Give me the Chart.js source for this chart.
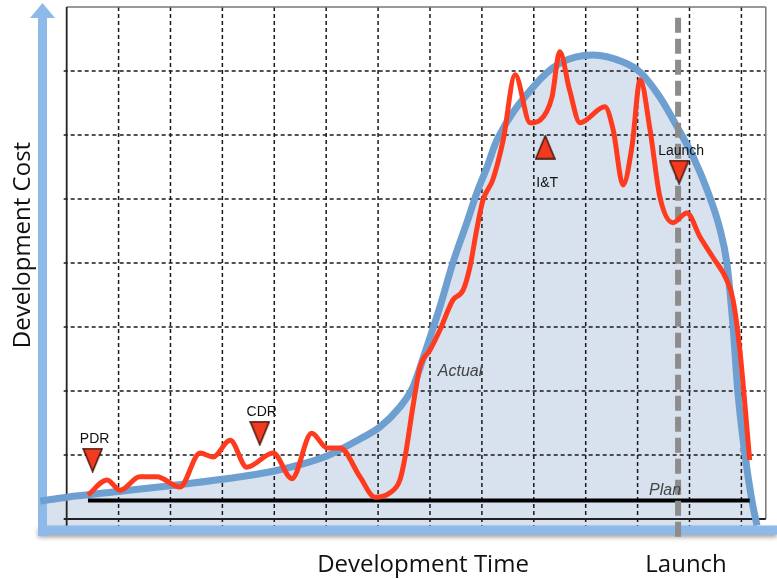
<!DOCTYPE html>
<html>
<head>
<meta charset="utf-8">
<script src="https://cdn.jsdelivr.net/npm/chart.js@4.4.1/dist/chart.umd.min.js"></script>
<style>
  html, body { margin: 0; padding: 0; background: #fff; }
  #wrap { width: 777px; height: 579px; position: relative; }
</style>
</head>
<body>
<div id="wrap"><canvas id="chart"></canvas></div>
<script>
// one unit = one grid cell
var gridCols = [0, 1, 2, 3, 4, 5, 6, 7, 8, 9, 10, 11, 12, 13];
var gridRows = [1, 2, 3, 4, 5, 6, 7];
var gridRight = 13.47;
var gridTop = 8;

// planned spend profile (blue)
var profileX = [-0.51, 0, 1, 2, 3, 4, 5, 5.65, 6.04, 6.42, 6.67, 6.94, 7.19, 7.44, 7.71, 7.9, 8.1, 8.29, 8.99, 9.5, 10.14, 10.72, 11.05, 11.43, 11.76, 12.07, 12.34, 12.59, 12.72, 12.84, 12.93, 13.07, 13.2, 13.3];
var profileY = [0.28, 0.34, 0.43, 0.52, 0.62, 0.75, 0.98, 1.25, 1.44, 1.75, 2.06, 2.69, 3.31, 4.0, 4.63, 5.09, 5.5, 5.92, 6.75, 7.12, 7.25, 7.14, 6.98, 6.59, 6.13, 5.66, 5.14, 4.52, 4.0, 3.0, 2.0, 1.0, 0.3, -0.1];

// actual spend (red)
var actualX = [0.41, 0.78, 1.03, 1.41, 1.74, 2.18, 2.57, 2.82, 3.15, 3.47, 3.98, 4.34, 4.72, 5.02, 5.27, 5.65, 5.94, 6.23, 6.42, 6.52, 6.67, 6.81, 7.0, 7.19, 7.44, 7.64, 7.77, 7.9, 8.02, 8.21, 8.41, 8.64, 8.93, 9.12, 9.35, 9.5, 9.69, 9.89, 10.37, 10.53, 10.72, 10.89, 11.05, 11.24, 11.43, 11.68, 11.95, 12.2, 12.45, 12.72, 12.84, 12.97, 13.16];
var actualY = [0.375, 0.61, 0.45, 0.66, 0.66, 0.5, 1.03, 0.97, 1.23, 0.81, 1.03, 0.63, 1.34, 1.11, 1.11, 0.66, 0.34, 0.41, 0.61, 0.97, 1.75, 2.38, 2.64, 2.95, 3.42, 3.58, 3.94, 4.52, 4.98, 5.3, 5.92, 6.94, 6.19, 6.23, 6.59, 7.3, 6.7, 6.19, 6.44, 6.08, 5.22, 5.81, 6.86, 6.08, 5.03, 4.63, 4.78, 4.41, 4.09, 3.73, 3.42, 2.64, 0.92];

// flat plan line (black)
var planLineX = [0.41, 13.16];
var planLineY = [0.29, 0.29];

var launchX = 11.78;

var milestoneNames = ['PDR', 'CDR', 'I&T', 'Launch'];
var milestoneX = [0.5, 3.72, 9.22, 11.8];
var milestoneY = [0.92, 1.34, 5.81, 5.42];
var milestoneUp = [false, false, true, false];

var noteText = ['Actual', 'Plan'];
var noteX = [7.58, 11.53];
var noteY = [2.3, 0.45];

var xTitle = 'Development Time';
var yTitle = 'Development Cost';
var launchTitle = 'Launch';

function zip(xs, ys) {
  var out = [];
  for (var i = 0; i < xs.length; i++) {
    out.push({x: xs[i], y: ys[i]});
  }
  return out;
}

function makeTriangle(up) {
  var c = document.createElement('canvas');
  c.width = 21;
  c.height = 25;
  var g = c.getContext('2d');
  g.beginPath();
  if (up) {
    g.moveTo(10.5, 1); g.lineTo(20, 24); g.lineTo(1, 24);
  } else {
    g.moveTo(1, 1); g.lineTo(20, 1); g.lineTo(10.5, 24);
  }
  g.closePath();
  g.fillStyle = '#f23a1e';
  g.fill();
  g.lineWidth = 1.4;
  g.strokeStyle = '#3a0f08';
  g.stroke();
  return c;
}

var backdrop = {
  id: 'backdrop',
  beforeDatasetsDraw: function(chart) {
    var ctx = chart.ctx;
    var xs = chart.scales.x;
    var ys = chart.scales.y;
    var area = chart.chartArea;
    var l = xs.getPixelForValue(0);
    var r = xs.getPixelForValue(gridRight);
    var t = ys.getPixelForValue(gridTop);
    var b = ys.getPixelForValue(0);

    function seg(x1, y1, x2, y2) {
      ctx.beginPath();
      ctx.moveTo(x1, y1);
      ctx.lineTo(x2, y2);
      ctx.stroke();
    }

    ctx.save();
    // dashed grid
    ctx.lineWidth = 1.5;
    ctx.strokeStyle = '#1a1a1a';
    ctx.setLineDash([4, 3]);
    for (var i = 1; i < gridCols.length; i++) {
      var px = xs.getPixelForValue(gridCols[i]);
      seg(px, t, px, b + 7);
    }
    ctx.lineWidth = 1.7;
    for (var j = 0; j < gridRows.length; j++) {
      var py = ys.getPixelForValue(gridRows[j]);
      seg(l - 3, py, r, py);
    }
    ctx.setLineDash([]);

    // frame
    ctx.strokeStyle = '#777';
    ctx.lineWidth = 1.5;
    seg(l, t, r, t);
    seg(r, t, r, b);
    ctx.strokeStyle = '#222';
    ctx.lineWidth = 1.8;
    seg(l, t, l, b + 7);
    ctx.lineWidth = 2;
    seg(l - 3, b, r, b);

    // blue axis arrows
    var ax = area.left + 2.5;
    var ay = area.bottom - 2;
    ctx.shadowColor = 'rgba(0,0,0,0.35)';
    ctx.shadowBlur = 4;
    ctx.shadowOffsetY = 3;
    ctx.fillStyle = '#8dbae8';
    ctx.fillRect(ax - 4.5, ay - 4.5, area.right - ax + 4.5, 9);
    ctx.shadowColor = 'transparent';
    ctx.fillRect(ax - 4.5, 17, 9, ay + 6 - 17);
    ctx.beginPath();
    ctx.moveTo(ax - 12.5, 18);
    ctx.lineTo(ax, 3);
    ctx.lineTo(ax + 12.5, 18);
    ctx.closePath();
    ctx.fill();
    ctx.restore();
  },
  afterDatasetsDraw: function(chart) {
    var ctx = chart.ctx;
    var xs = chart.scales.x;
    var ys = chart.scales.y;
    ctx.save();
    ctx.textAlign = 'center';
    ctx.textBaseline = 'middle';

    ctx.fillStyle = '#111';
    ctx.font = '14px "Liberation Sans", Arial, sans-serif';
    for (var i = 0; i < milestoneNames.length; i++) {
      var px = xs.getPixelForValue(milestoneX[i]);
      var py = ys.getPixelForValue(milestoneY[i]);
      var off = milestoneUp[i] ? 36 : -21;
      ctx.fillText(milestoneNames[i], px + 2, py + off);
    }

    ctx.fillStyle = '#444';
    ctx.font = 'italic 16px "Liberation Sans", Arial, sans-serif';
    for (var k = 0; k < noteText.length; k++) {
      ctx.fillText(noteText[k], xs.getPixelForValue(noteX[k]), ys.getPixelForValue(noteY[k]));
    }

    ctx.fillStyle = '#111';
    ctx.font = '24px "Open Sans", sans-serif';
    ctx.fillText(xTitle, 423, 565);
    ctx.fillText(launchTitle, xs.getPixelForValue(launchX) + 8, 565);
    ctx.translate(23, 245);
    ctx.rotate(-Math.PI / 2);
    ctx.fillText(yTitle, 0, 0);
    ctx.restore();
  }
};

var triangles = milestoneUp.map(function(up) { return makeTriangle(up); });

new Chart(document.getElementById('chart'), {
  type: 'line',
  data: {
    datasets: [
      {
        type: 'scatter',
        data: zip(milestoneX, milestoneY),
        pointStyle: triangles,
        pointRadius: 12,
        order: 0
      },
      {
        data: zip(actualX, actualY),
        borderColor: '#fe3b1f',
        borderWidth: 5,
        pointRadius: 0,
        cubicInterpolationMode: 'monotone',
        fill: false,
        order: 1
      },
      {
        data: [{x: launchX, y: 7.83}, {x: launchX, y: -0.33}],
        borderColor: '#8c8c8c',
        borderWidth: 6,
        borderDash: [15, 6],
        borderCapStyle: 'butt',
        pointRadius: 0,
        fill: false,
        clip: false,
        order: 2
      },
      {
        data: zip(planLineX, planLineY),
        borderColor: '#000',
        borderWidth: 4,
        pointRadius: 0,
        fill: false,
        order: 3
      },
      {
        data: zip(profileX, profileY),
        borderColor: '#6e9fd1',
        backgroundColor: '#d8e1ee',
        borderWidth: 7,
        pointRadius: 0,
        cubicInterpolationMode: 'monotone',
        fill: 'start',
        order: 4
      }
    ]
  },
  options: {
    responsive: true,
    maintainAspectRatio: false,
    animation: false,
    layout: { autoPadding: false, padding: { left: 40, right: 0, top: 0, bottom: 47 } },
    scales: {
      x: { type: 'linear', min: -0.514, max: 13.686, display: false },
      y: { type: 'linear', min: -0.203, max: 8.109, display: false }
    },
    plugins: {
      legend: { display: false },
      tooltip: { enabled: false },
      filler: { drawTime: 'beforeDraw' }
    }
  },
  plugins: [backdrop]
});
</script>
</body>
</html>
